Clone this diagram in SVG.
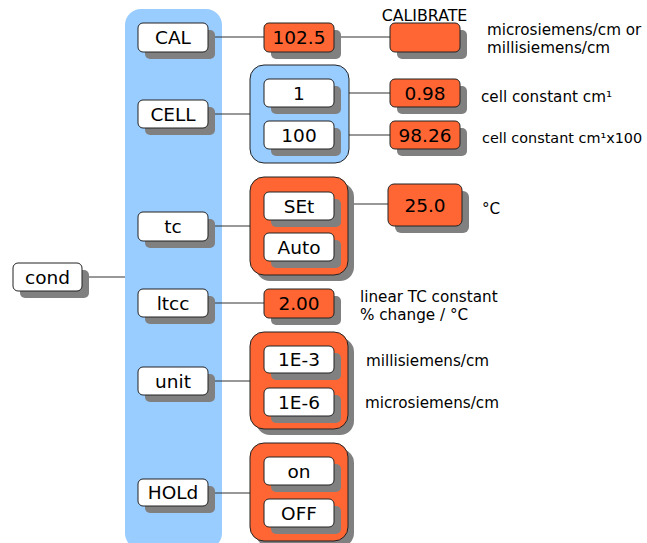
<svg xmlns="http://www.w3.org/2000/svg" width="647" height="543" viewBox="0 0 647 543">
<style>
.sh{fill:#808080}
.w{fill:#fff;stroke:#222;stroke-width:1}
.o{fill:#ff6633;stroke:#222;stroke-width:1}
.b{fill:#99ccff;stroke:#222;stroke-width:1}
.t{font-family:"DejaVu Sans",Verdana,sans-serif;font-size:18.5px;fill:#000;text-anchor:middle}
.n{font-family:"DejaVu Sans",Verdana,sans-serif;font-size:15.2px;fill:#000}
.c{stroke:#333;stroke-width:1;fill:none}
</style>
<rect x="125" y="9" width="97" height="540" rx="16" fill="#99ccff"/>
<g id="connectors">
<path class="c" d="M82 277H125M208 37H264M334 37H390M208 114H250M334 93H390M334 135H390M208 226H250M334 204H388M208 303H264M208 381H250M208 493H250"/>
</g>
<g id="cond"><rect class="sh" x="20" y="270" width="69" height="28" rx="5"/><rect class="w" x="13" y="263" width="69" height="28" rx="5"/><text class="t" x="47.5" y="284">cond</text></g>
<g id="CAL"><rect class="sh" x="145" y="30" width="70" height="29" rx="5"/><rect class="w" x="138" y="23" width="70" height="29" rx="5"/><text class="t" x="173" y="44.3">CAL</text></g>
<g id="CELL"><rect class="sh" x="145" y="107" width="70" height="28" rx="5"/><rect class="w" x="138" y="100" width="70" height="28" rx="5"/><text class="t" x="173" y="120.7">CELL</text></g>
<g id="tc"><rect class="sh" x="145" y="219" width="70" height="29" rx="5"/><rect class="w" x="138" y="212" width="70" height="29" rx="5"/><text class="t" x="173" y="233.2">tc</text></g>
<g id="ltcc"><rect class="sh" x="145" y="296" width="70" height="28" rx="5"/><rect class="w" x="138" y="289" width="70" height="28" rx="5"/><text class="t" x="173" y="309.7">ltcc</text></g>
<g id="unit"><rect class="sh" x="145" y="374" width="70" height="28" rx="5"/><rect class="w" x="138" y="367" width="70" height="28" rx="5"/><text class="t" x="173" y="387.7">unit</text></g>
<g id="HOLd"><rect class="sh" x="145" y="486" width="70" height="27" rx="5"/><rect class="w" x="138" y="479" width="70" height="27" rx="5"/><text class="t" x="173" y="499.2">HOLd</text></g>
<g id="v1025"><rect class="sh" x="271" y="30" width="70" height="29" rx="5"/><rect class="o" x="264" y="23" width="70" height="29" rx="5"/><text class="t" x="299" y="44.3">102.5</text></g>
<g id="calibrate"><rect class="sh" x="397" y="30" width="70" height="29" rx="5"/><rect class="o" x="390" y="23" width="70" height="29" rx="5"/><text class="n" x="424.5" y="20.5" text-anchor="middle" style="font-size:15.8px">CALIBRATE</text></g>
<g id="cellgroup"><rect class="b" x="250" y="65" width="99" height="98" rx="14"/>
<rect class="sh" x="271" y="86" width="70" height="28" rx="5"/><rect class="w" x="264" y="79" width="70" height="28" rx="5"/><text class="t" x="299" y="99.7">1</text>
<rect class="sh" x="271" y="128" width="70" height="28" rx="5"/><rect class="w" x="264" y="121" width="70" height="28" rx="5"/><text class="t" x="299" y="141.7">100</text></g>
<g id="v098"><rect class="sh" x="397" y="86" width="70" height="28" rx="5"/><rect class="o" x="390" y="79" width="70" height="28" rx="5"/><text class="t" x="425" y="99.7">0.98</text></g>
<g id="v9826"><rect class="sh" x="397" y="128" width="70" height="28" rx="5"/><rect class="o" x="390" y="121" width="70" height="28" rx="5"/><text class="t" x="425" y="141.7">98.26</text></g>
<g id="tcgroup"><rect class="sh" x="256" y="183" width="98" height="98" rx="14"/><rect class="o" x="250" y="177" width="98" height="98" rx="14"/>
<rect class="sh" x="271" y="199" width="70" height="28" rx="5"/><rect class="w" x="264" y="192" width="70" height="28" rx="5"/><text class="t" x="299" y="212.7">SEt</text>
<rect class="sh" x="271" y="240" width="70" height="28" rx="5"/><rect class="w" x="264" y="233" width="70" height="28" rx="5"/><text class="t" x="299" y="253.7">Auto</text></g>
<g id="v250"><rect class="sh" x="395" y="191" width="74" height="42" rx="6"/><rect class="o" x="388" y="184" width="74" height="42" rx="6"/><text class="t" x="425" y="211.7">25.0</text></g>
<g id="v200"><rect class="sh" x="271" y="296" width="70" height="29" rx="5"/><rect class="o" x="264" y="289" width="70" height="29" rx="5"/><text class="t" x="299" y="310.2">2.00</text></g>
<g id="unitgroup"><rect class="sh" x="256" y="338" width="98" height="97" rx="14"/><rect class="o" x="250" y="332" width="98" height="97" rx="14"/>
<rect class="sh" x="271" y="353" width="70" height="27" rx="5"/><rect class="w" x="264" y="346" width="70" height="27" rx="5"/><text class="t" x="299" y="366.2">1E-3</text>
<rect class="sh" x="271" y="395" width="70" height="28" rx="5"/><rect class="w" x="264" y="388" width="70" height="28" rx="5"/><text class="t" x="299" y="408.7">1E-6</text></g>
<g id="holdgroup"><rect class="sh" x="256" y="449" width="98" height="98" rx="14"/><rect class="o" x="250" y="443" width="98" height="98" rx="14"/>
<rect class="sh" x="271" y="464" width="70" height="28" rx="5"/><rect class="w" x="264" y="457" width="70" height="28" rx="5"/><text class="t" x="299" y="477.7">on</text>
<rect class="sh" x="271" y="506" width="70" height="28" rx="5"/><rect class="w" x="264" y="499" width="70" height="28" rx="5"/><text class="t" x="299" y="519.7">OFF</text></g>
<g id="notes">
<text class="n" x="487" y="35">microsiemens/cm or</text>
<text class="n" x="487" y="53">millisiemens/cm</text>
<text class="n" x="481" y="102">cell constant cm¹</text>
<text class="n" x="482" y="143" style="font-size:14.4px">cell constant cm¹x100</text>
<text class="n" x="482" y="214">°C</text>
<text class="n" x="360" y="301.5">linear TC constant</text>
<text class="n" x="360" y="320">% change / °C</text>
<text class="n" x="366" y="366">millisiemens/cm</text>
<text class="n" x="365" y="408">microsiemens/cm</text>
</g>
</svg>
